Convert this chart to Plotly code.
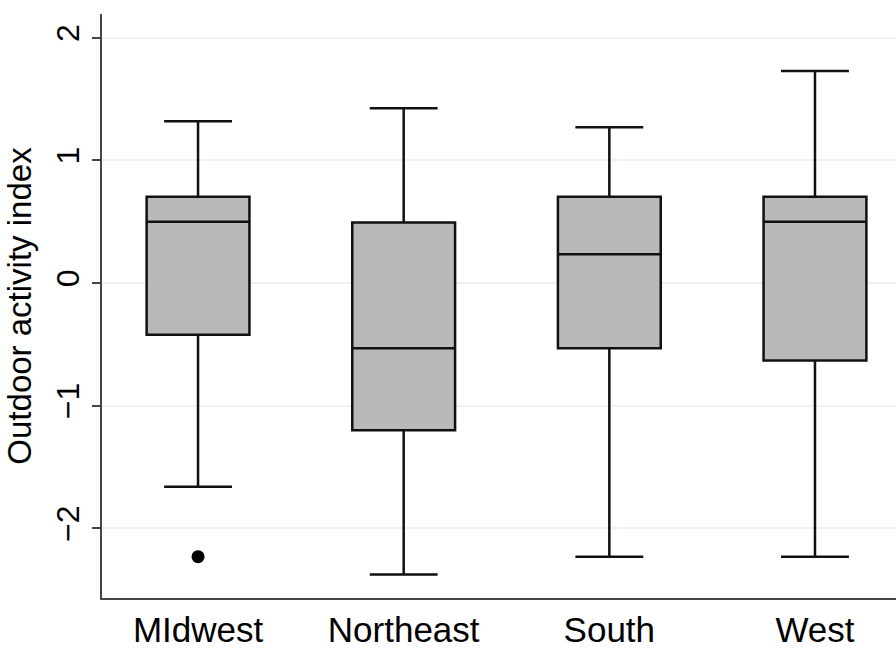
import plotly.graph_objects as go

regions = ["MIdwest", "Northeast", "South", "West"]
q1 = [-0.42, -1.20, -0.53, -0.63]
median = [0.50, -0.53, 0.235, 0.50]
q3 = [0.705, 0.495, 0.705, 0.705]
lowerfence = [-1.66, -2.375, -2.23, -2.23]
upperfence = [1.32, 1.425, 1.27, 1.73]
outlier_region = ["MIdwest"]
outlier_value = [-2.23]
y_ticks = [-2, -1, 0, 1, 2]
y_ticklabels = ["\u22122", "\u22121", "0", "1", "2"]

FONT = "Liberation Sans, Arial, sans-serif"

fig = go.Figure()
fig.add_trace(go.Box(
    x=regions,
    q1=q1, median=median, q3=q3,
    lowerfence=lowerfence, upperfence=upperfence,
    fillcolor="#b9b9b9",
    line=dict(color="#111111", width=2.5),
    whiskerwidth=0.66,
    width=0.5,
    boxpoints=False,
    showlegend=False,
    hoverinfo="skip",
))
fig.add_trace(go.Scatter(
    x=outlier_region, y=outlier_value, mode="markers",
    marker=dict(color="#000000", size=13, line=dict(width=0)),
    showlegend=False, hoverinfo="skip",
))

fig.update_layout(
    width=896, height=649,
    margin=dict(l=102, r=0, t=14, b=47, pad=0),
    plot_bgcolor="white", paper_bgcolor="white",
    font=dict(family=FONT, color="#000000"),
    xaxis=dict(
        type="category",
        categoryorder="array", categoryarray=regions,
        range=[-0.467, 3.394],
        showline=True, linecolor="#444444", linewidth=1.5,
        showgrid=False, zeroline=False,
        ticks="", tickfont=dict(size=35, family=FONT),
    ),
    yaxis=dict(
        range=[-2.567, 2.194],
        tickvals=y_ticks, ticktext=y_ticklabels,
        tickangle=-90,
        ticks="outside", ticklen=8, tickwidth=1.5, tickcolor="#444444",
        tickfont=dict(size=32, family=FONT),
        showline=True, linecolor="#444444", linewidth=1.5,
        showgrid=True, gridcolor="#eaf2f3", gridwidth=1.5,
        zeroline=False,
        title=dict(text="Outdoor activity index", font=dict(size=33, family=FONT), standoff=9),
    ),
)

fig.write_html(
    "out.html",
    config={"displayModeBar": False},
    post_script="document.body.style.margin='0px';document.body.style.overflow='hidden';",
)
